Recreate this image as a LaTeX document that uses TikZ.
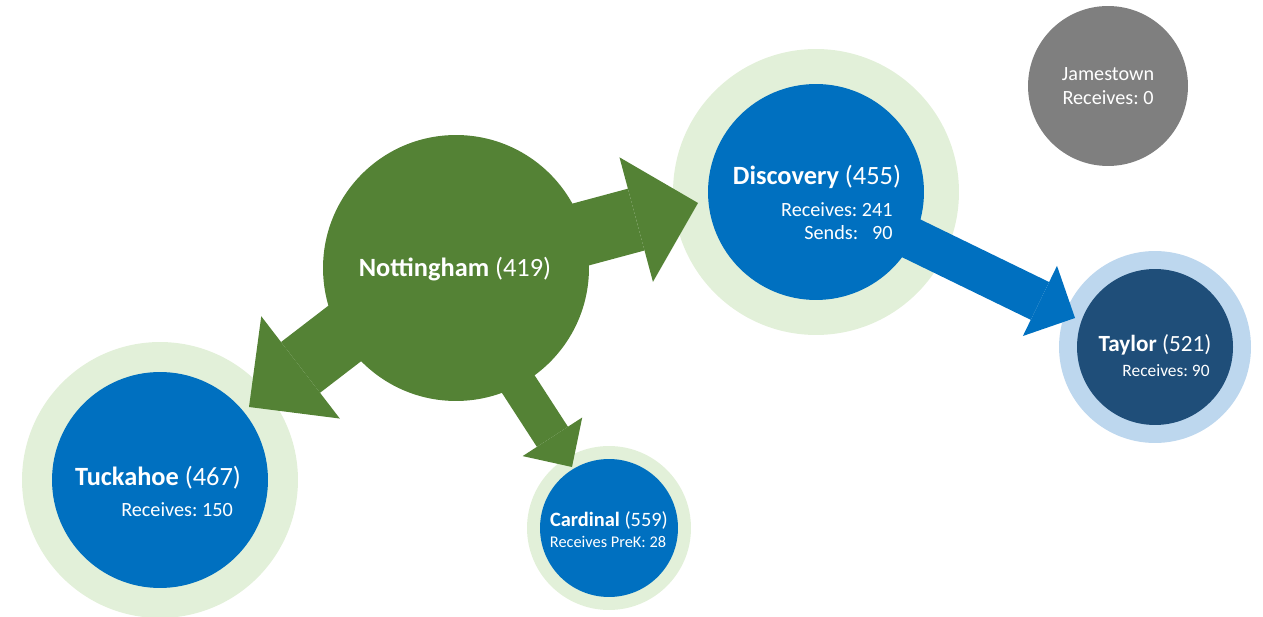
\documentclass[tikz,border=0pt]{standalone}
\usepackage{fontspec}
\setmainfont{Carlito}
\frenchspacing
\usetikzlibrary{arrows.meta}
\definecolor{nottgreen}{HTML}{548235}
\definecolor{ringgreen}{HTML}{E2F0D9}
\definecolor{schoolblue}{HTML}{0070C0}
\definecolor{taylorblue}{HTML}{1F4E79}
\definecolor{ringblue}{HTML}{BDD7EE}
\definecolor{closedgray}{HTML}{7F7F7F}

\begin{document}
\begin{tikzpicture}[x=0.02cm, y=-0.02cm,
  school/.style={circle, fill=#1, inner sep=0pt},
  bigname/.style={text=white, inner sep=0pt, font=\fontsize{15}{18}\selectfont},
  info/.style={text=white, inner sep=0pt, font=\fontsize{11.5}{13}\selectfont},
  move/.style={#1, line cap=butt},
  ]
\useasboundingbox (0,0) rectangle (1263,617);

\node [school=ringgreen, minimum size=5.72cm] (discring) at (816,192) {};
\node [school=ringgreen, minimum size=5.52cm] (tuckring) at (160,480) {};
\node [school=ringgreen, minimum size=3.28cm] (cardring) at (609,528) {};
\node [school=ringblue, minimum size=3.84cm] (taylring) at (1155,347) {};

\node [school=nottgreen, minimum size=5.32cm] (nott) at (456,268) {};
\node [school=schoolblue, minimum size=4.32cm] (disc) at (816,192) {};
\node [school=schoolblue, minimum size=4.32cm] (tuck) at (160,480) {};
\node [school=schoolblue, minimum size=2.76cm] (card) at (609,528) {};
\node [school=taylorblue, minimum size=3.12cm] (tayl) at (1155,347) {};
\node [school=closedgray, minimum size=3.2cm, text=white, align=center,
  font=\fontsize{11.5}{14}\selectfont] (james) at (1108,86) {Jamestown\\Receives: 0};

\coordinate (disctip) at (698,203);
\coordinate (tucktip) at (249,407);
\coordinate (cardtip) at (572,467);
\coordinate (tayltip) at (1075,318);

\draw [move=nottgreen, line width=1.28cm, -{Triangle[length=1.28cm, width=2.58cm, line width=0pt]}] (nott.center) -- (disctip);
\draw [move=nottgreen, line width=1.28cm, -{Triangle[length=1.3cm, width=2.58cm, line width=0pt]}] ([yshift=0.4cm]nott.center) -- (tucktip);
\draw [move=nottgreen, line width=0.74cm, -{Triangle[length=0.72cm, width=1.42cm, line width=0pt]}] ([xshift=-0.26cm]nott.center) -- (cardtip);
\draw [move=schoolblue, line width=0.84cm, -{Triangle[length=0.78cm, width=1.56cm, line width=0pt]}] (disc.center) -- (tayltip);

\node [bigname] (nottname) at (455,269) {\textbf{Nottingham} (419)};
\node [bigname] (discname) at (817,177) {\textbf{Discovery} (455)};
\node [info, anchor=east, align=right] (discinfo) at (893,221) {Receives: 241\\Sends:\hspace{0.28cm}90};
\node [bigname] (tuckname) at (158,478) {\textbf{Tuckahoe} (467)};
\node [info] (tuckinfo) at (177,510) {Receives: 150};
\node [bigname, font=\fontsize{11.6}{14}\selectfont] (cardname) at (609,520) {\textbf{Cardinal} (559)};
\node [info, font=\fontsize{9.3}{11}\selectfont] (cardinfo) at (608,542) {Receives PreK: 28};
\node [bigname, font=\fontsize{13.2}{16}\selectfont] (taylname) at (1155,345) {\textbf{Taylor} (521)};
\node [info, font=\fontsize{9.9}{12}\selectfont] (taylinfo) at (1166,371) {Receives: 90};
\end{tikzpicture}
\end{document}
